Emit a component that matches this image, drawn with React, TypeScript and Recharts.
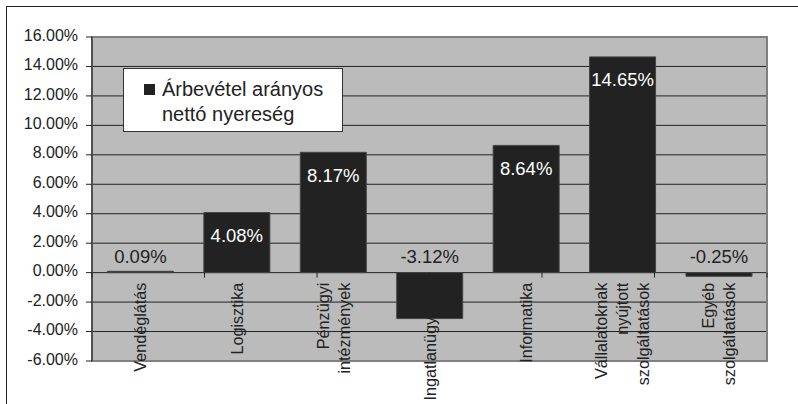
import { BarChart, Bar, XAxis, YAxis, CartesianGrid, LabelList, ReferenceArea } from 'recharts';

const categories = [
    ['Vendéglátás'],
    ['Logisztika'],
    ['Pénzügyi', 'intézmények'],
    ['Ingatlanügyletek'],
    ['Informatika'],
    ['Vállalatoknak', 'nyújtott', 'szolgáltatások'],
    ['Egyéb', 'szolgáltatások'],
];
const values = [0.09, 4.08, 8.17, -3.12, 8.64, 14.65, -0.25];
const yTicks = [-6, -4, -2, 0, 2, 4, 6, 8, 10, 12, 14, 16];
const edgeTicks = [0, 1, 2, 3, 4, 5, 6, 7];
const SERIES_NAME = ['Árbevétel arányos', 'nettó nyereség'];

const Y_MIN = -6;
const Y_MAX = 16;
const W = 798;
const H = 404;
const AXIS_H = 1;
const MARGIN = { top: 37, right: 31, bottom: 43 - 2 * AXIS_H, left: 0 };
const PLOT_H = H - 43 - MARGIN.top;
// the category axis sits on the zero line, not at the bottom of the plot
const ZERO_SHIFT = (PLOT_H * (0 - Y_MIN)) / (Y_MAX - Y_MIN);

const FONT = '"Liberation Sans", Arial, sans-serif';
const INK = '#222222';

const data = categories.map((lines, i) => ({ name: lines.join(' '), lines, value: values[i] }));

const pct = (v: number) => `${v.toFixed(2)}%`;

const renderCategoryTick = (props: any) => {
    const { x, y, payload, index } = props;
    const lines: string[] = data[payload?.index ?? index]?.lines ?? [String(payload?.value)];
    const top = y - ZERO_SHIFT + 10;
    const step = 21;
    const first = -((lines.length - 1) * step) / 2;
    return (
        <g key={`c-${index}`}>
            {lines.map((l, i) => (
                <text
                    key={i}
                    x={0}
                    y={0}
                    transform={`translate(${x + first + i * step},${top}) rotate(-90)`}
                    textAnchor="end"
                    dominantBaseline="central"
                    fontSize={16.2}
                    fontFamily={FONT}
                    fill={INK}
                >
                    {l}
                </text>
            ))}
        </g>
    );
};

const renderEdgeTick = (props: any) => {
    const { x, y, index } = props;
    const zy = y - AXIS_H - ZERO_SHIFT;
    return <line key={`e-${index}`} x1={x} x2={x} y1={zy} y2={zy + 5} stroke={INK} strokeWidth={1} />;
};

const renderLabel = (props: any) => {
    const { x, y, width, height, value } = props;
    const cx = x + width / 2;
    const zero = value >= 0 ? y + height : height < 0 ? y + height : y;
    const inside = value >= 1;
    return (
        <text
            x={cx}
            y={inside ? y + 23 : zero - 16}
            textAnchor="middle"
            dominantBaseline="central"
            fontSize={18.5}
            fontFamily={FONT}
            fill={inside ? '#ffffff' : INK}
        >
            {pct(value)}
        </text>
    );
};

export default function App() {
    return (
        <div style={{ position: 'absolute', left: 0, top: 0, width: W, height: H, overflow: 'hidden', background: '#fff' }}>
            <div style={{ position: 'absolute', left: 6, top: 6, width: W, height: H, borderTop: `1px solid ${INK}`, borderLeft: `1px solid ${INK}` }} />
            <BarChart width={W} height={H} data={data} margin={MARGIN} barCategoryGap="16%">
                <CartesianGrid vertical={false} stroke={INK} strokeWidth={1} fill="#BBBBBB" fillOpacity={1} />
                <ReferenceArea y1={Y_MIN} y2={Y_MAX} fill="none" stroke="#808080" strokeWidth={2} />
                <XAxis
                    dataKey="name"
                    height={AXIS_H}
                    tickSize={0}
                    tickMargin={0}
                    axisLine={false}
                    tickLine={false}
                    interval={0}
                    tick={renderCategoryTick}
                />
                <XAxis
                    xAxisId="edges"
                    type="number"
                    domain={[0, 7]}
                    ticks={edgeTicks}
                    height={AXIS_H}
                    tickSize={0}
                    tickMargin={0}
                    axisLine={false}
                    tickLine={false}
                    interval={0}
                    tick={renderEdgeTick}
                />
                <YAxis
                    width={92}
                    domain={[Y_MIN, Y_MAX]}
                    ticks={yTicks}
                    interval={0}
                    tickFormatter={pct}
                    tickSize={6}
                    tickMargin={8}
                    axisLine={{ stroke: INK }}
                    tickLine={{ stroke: INK }}
                    tick={{ fill: INK, fontSize: 16, fontFamily: FONT, dy: -2 }}
                />
                <Bar dataKey="value" fill="#222222" stroke="#444444" strokeWidth={1} isAnimationActive={false}>
                    <LabelList dataKey="value" content={renderLabel} />
                </Bar>
            </BarChart>
            <div
                style={{
                    position: 'absolute',
                    left: 123,
                    top: 68,
                    width: 220,
                    height: 64,
                    boxSizing: 'border-box',
                    background: '#fff',
                    border: '1px solid #333',
                    fontFamily: FONT,
                    fontSize: 20,
                    color: INK,
                }}
            >
                <div style={{ position: 'absolute', left: 20, top: 15, width: 11, height: 11, background: '#222' }} />
                <div style={{ position: 'absolute', left: 38, top: 8, lineHeight: '25px', whiteSpace: 'nowrap' }}>
                    {SERIES_NAME.map((s, i) => (
                        <div key={i}>{s}</div>
                    ))}
                </div>
            </div>
        </div>
    );
}
